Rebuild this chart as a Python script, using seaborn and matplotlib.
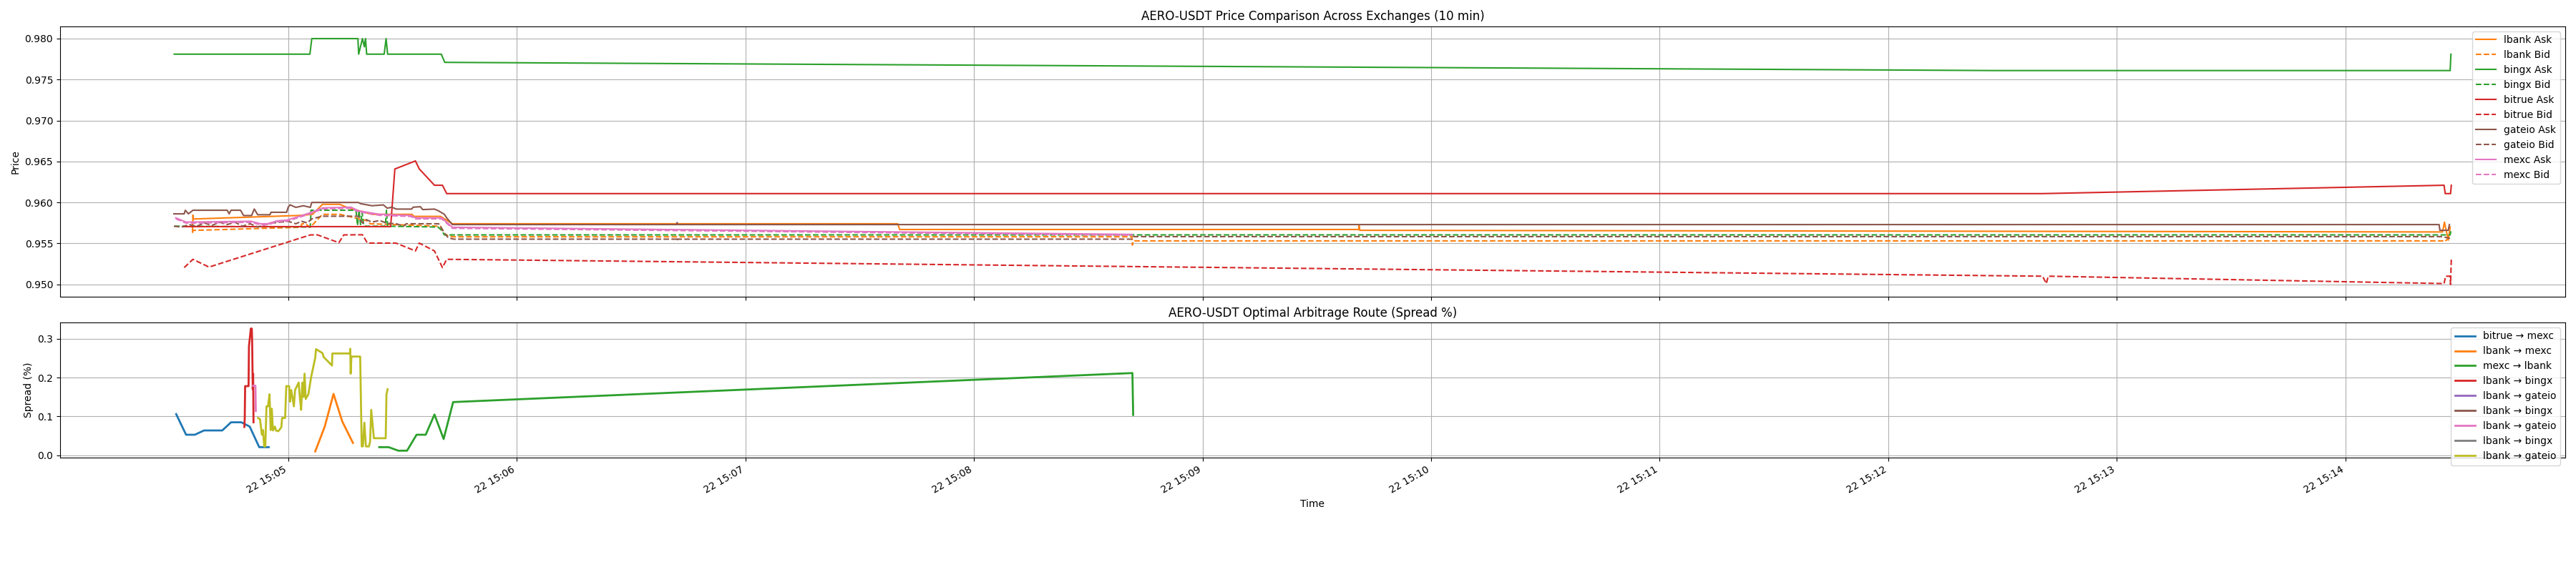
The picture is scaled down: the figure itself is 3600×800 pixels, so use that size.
import numpy as np
import pandas as pd
import matplotlib
matplotlib.use("Agg")
import matplotlib.pyplot as plt
import seaborn as sns

plt.rcParams['font.family'] = ['DejaVu Sans']

BASE = pd.Timestamp("2025-05-22 15:05:00")

# ---------------- price data (seconds from 15:05:00, price) ----------------
lbank_ask_t = [-25.1, -25.0, -24.9, 2.7, 6.4, 9.0, 13.6, 14.9, 16.0, 18.5, 22.0, 32.5, 33.0, 40.0, 41.0, 43.1, 160.0, 160.5, 281.0, 281.1, 281.3, 565.5, 566.0, 567.0, 567.5]
lbank_ask_p = [0.9564, 0.95845, 0.95798, 0.95841, 0.95855, 0.95977, 0.95977, 0.9595, 0.9593, 0.9590, 0.95855, 0.95855, 0.9583, 0.9583, 0.9580, 0.9574, 0.9574, 0.9567, 0.9567, 0.9572, 0.9566, 0.9564, 0.9576, 0.9554, 0.9570]

lbank_bid_t = [-25.1, -25.0, 3.3, 3.6, 4.5, 5.8, 9.0, 13.6, 14.9, 20.5, 21.5, 39.9, 41.0, 43.1, 221.5, 221.6, 221.8, 565.5, 566.0, 567.5]
lbank_bid_p = [0.9563, 0.95659, 0.95697, 0.9574, 0.9574, 0.95697, 0.95855, 0.95855, 0.95841, 0.9578, 0.95740, 0.95710, 0.9561, 0.95581, 0.95581, 0.9548, 0.95531, 0.95531, 0.9552, 0.9558]

bingx_ask_t = [-29.9, 5.7, 6.2, 18.3, 18.5, 19.5, 20.0, 20.3, 20.6, 25.2, 25.7, 26.1, 40.2, 41.1, 448.0, 567.5, 567.7]
bingx_ask_p = [0.9781, 0.9781, 0.9800, 0.9800, 0.9781, 0.9800, 0.9790, 0.9800, 0.9781, 0.9781, 0.9800, 0.9781, 0.9781, 0.9771, 0.9761, 0.9761, 0.9781]

bingx_bid_t = [-29.9, 5.8, 6.0, 17.8, 18.2, 18.6, 19.0, 19.4, 19.8, 20.3, 25.5, 25.8, 26.1, 39.3, 40.3, 41.0, 567.5, 567.7]
bingx_bid_p = [0.9571, 0.9570, 0.95905, 0.95905, 0.9572, 0.9590, 0.9573, 0.9588, 0.9572, 0.9571, 0.9571, 0.95905, 0.9571, 0.9570, 0.9566, 0.95604, 0.95604, 0.9566]

bitrue_ask_t = [-27.4, 26.9, 28.0, 33.4, 34.4, 38.4, 40.5, 41.6, 460.5, 565.9, 566.2, 567.6, 567.8]
bitrue_ask_p = [0.95705, 0.95705, 0.96408, 0.96507, 0.9641, 0.9621, 0.9621, 0.96108, 0.96108, 0.9621, 0.96108, 0.96108, 0.9621]

bitrue_bid_t = [-27.3, -25.0, -20.8, 5.8, 7.7, 13.3, 14.6, 19.5, 20.8, 28.3, 33.4, 34.4, 38.4, 40.5, 41.6, 460.5, 461.5, 462.0, 565.9, 566.3, 567.5, 567.6, 567.8]
bitrue_bid_p = [0.95205, 0.95306, 0.95211, 0.95604, 0.95604, 0.95509, 0.95604, 0.95606, 0.95504, 0.95504, 0.95408, 0.95504, 0.95408, 0.95204, 0.95306, 0.9510, 0.9501, 0.9510, 0.9501, 0.9510, 0.9510, 0.9500, 0.9531]

gateio_ask_t = [-30.0, -27.3, -27.0, -26.2, -25.0, -16.0, -15.5, -15.0, -12.5, -11.7, -9.6, -8.9, -8.0, -4.8, -4.5, -0.4, 0.0, 0.5, 2.0, 4.0, 5.8, 6.2, 18.4, 19.0, 22.0, 25.0, 26.0, 27.2, 28.4, 32.4, 32.8, 34.7, 35.3, 38.4, 39.4, 41.0, 41.6, 43.1, 102.0, 102.1, 102.2, 564.6, 564.8, 567.0, 567.3]
gateio_ask_p = [0.95861, 0.95861, 0.95905, 0.95861, 0.95905, 0.95905, 0.95861, 0.95905, 0.95905, 0.95840, 0.95840, 0.95920, 0.95850, 0.95850, 0.95880, 0.95880, 0.95942, 0.95971, 0.9594, 0.9596, 0.9594, 0.9600, 0.9600, 0.95985, 0.9596, 0.9597, 0.9593, 0.95942, 0.95919, 0.95919, 0.95942, 0.95948, 0.95913, 0.95919, 0.95899, 0.95855, 0.95812, 0.95730, 0.95730, 0.95755, 0.95730, 0.95730, 0.9566, 0.9566, 0.9573]

gateio_bid_t = [-30.0, -28.0, -26.0, -24.0, -22.0, -20.0, -18.0, -16.0, -14.0, -12.0, -10.0, -8.0, -6.0, -4.0, -2.0, 0.0, 2.0, 3.5, 5.0, 6.2, 9.0, 18.4, 19.5, 20.5, 22.0, 24.0, 26.0, 28.4, 30.3, 31.0, 39.5, 40.3, 41.0, 42.0, 43.4, 102.0, 102.1, 102.2, 221.5, 221.8, 565.5, 567.5]
gateio_bid_p = [0.95711, 0.9570, 0.9573, 0.9571, 0.9575, 0.9572, 0.9576, 0.9573, 0.9576, 0.9571, 0.9574, 0.9570, 0.9573, 0.9575, 0.9576, 0.9577, 0.9574, 0.9577, 0.9575, 0.9580, 0.95832, 0.95832, 0.9575, 0.9579, 0.9576, 0.9578, 0.95745, 0.9574, 0.95711, 0.95740, 0.95740, 0.95685, 0.95627, 0.9557, 0.95552, 0.95552, 0.9553, 0.95552, 0.95552, 0.95583, 0.95583, 0.9556]

mexc_ask_t = [-29.5, -26.8, -9.8, -7.3, -5.4, -2.9, -0.4, 2.7, 6.4, 9.0, 16.5, 18.4, 24.0, 32.2, 33.4, 40.3, 43.1, 221.5]
mexc_ask_p = [0.95812, 0.9576, 0.9577, 0.9574, 0.9574, 0.95776, 0.95784, 0.95827, 0.95884, 0.95934, 0.95942, 0.95899, 0.95855, 0.95841, 0.95812, 0.95812, 0.95697, 0.9561]

mexc_bid_t = [-29.5, -26.8, -9.8, -7.3, -5.4, -2.9, -0.4, 2.7, 6.4, 9.0, 16.5, 18.4, 24.0, 32.2, 33.4, 40.3, 43.1, 221.5]
mexc_bid_p = [0.95800, 0.95748, 0.95758, 0.95728, 0.95728, 0.95764, 0.95772, 0.95815, 0.95872, 0.95922, 0.95930, 0.95887, 0.95843, 0.95829, 0.95800, 0.95800, 0.95685, 0.9560]

# ---------------- spread data (seconds from 15:05:00, spread %) ----------------
route_labels = ["bitrue → mexc", "lbank → mexc", "mexc → lbank", "lbank → bingx", "lbank → gateio",
                "lbank → bingx", "lbank → gateio", "lbank → bingx", "lbank → gateio"]

r0_t = [-29.4, -26.8, -24.5, -22.1, -17.3, -15.0, -12.3, -10.1, -7.6, -5.1]
r0_s = [0.106, 0.053, 0.053, 0.064, 0.064, 0.085, 0.085, 0.074, 0.021, 0.021]
r1_t = [7.1, 9.6, 11.9, 14.2, 17.0]
r1_s = [0.010, 0.074, 0.158, 0.087, 0.032]
r2_t = [23.9, 26.4, 28.9, 31.2, 33.7, 36.1, 38.4, 40.8, 43.3, 221.6, 221.8]
r2_s = [0.021, 0.021, 0.012, 0.012, 0.053, 0.053, 0.105, 0.042, 0.137, 0.2116, 0.104]
r3_t = [-11.5, -11.4, -11.3, -10.4, -10.3, -9.8, -9.55, -9.45, -9.35, -9.3, -9.2, -9.1]
r3_s = [0.073, 0.096, 0.178, 0.178, 0.280, 0.326, 0.326, 0.290, 0.210, 0.170, 0.210, 0.085]
r4_t = [-9.0]
r4_s = [0.180]
r5_t = [-9.4]
r5_s = [0.200]
r6_t = [-9.2, -8.6, -8.5]
r6_s = [0.179, 0.179, 0.114]
r7_t = [-9.3]
r7_s = [0.150]
r8_t = [-7.9, -7.4, -6.9, -6.6, -6.3, -6.0, -5.7, -5.3, -4.9, -4.6, -4.3, -4.0, -3.5, -3.2, -2.6, -1.8, -1.6, -0.8, -0.5, 0.25, 0.45, 0.8, 1.5, 1.8, 2.75, 3.1, 3.4, 3.7, 4.0, 4.3, 4.6, 5.3, 6.0, 7.1, 7.3, 9.0, 9.3, 11.5, 11.6, 16.2, 16.3, 16.4, 16.6, 18.9, 19.3, 19.6, 20.0, 20.4, 21.2, 21.5, 21.8, 22.5, 25.6, 25.8, 26.1]
r8_s = [0.096, 0.093, 0.053, 0.065, 0.023, 0.023, 0.126, 0.126, 0.157, 0.065, 0.120, 0.064, 0.074, 0.064, 0.062, 0.072, 0.096, 0.096, 0.178, 0.178, 0.138, 0.168, 0.126, 0.168, 0.187, 0.145, 0.117, 0.187, 0.150, 0.210, 0.145, 0.157, 0.200, 0.251, 0.273, 0.263, 0.253, 0.231, 0.262, 0.262, 0.274, 0.210, 0.254, 0.254, 0.023, 0.023, 0.084, 0.023, 0.023, 0.035, 0.117, 0.044, 0.044, 0.157, 0.170]


def to_df(ts, vals):
    return pd.DataFrame({"time": BASE + pd.to_timedelta(np.array(ts, dtype=float), unit="s"),
                         "value": vals})


fig, (ax1, ax2) = plt.subplots(2, 1, figsize=(36, 8), dpi=100, sharex=True,
                               gridspec_kw={"height_ratios": [2, 1]})

price_series = [
    ("lbank Ask", lbank_ask_t, lbank_ask_p, "#ff7f0e", "-"),
    ("lbank Bid", lbank_bid_t, lbank_bid_p, "#ff7f0e", "--"),
    ("bingx Ask", bingx_ask_t, bingx_ask_p, "#2ca02c", "-"),
    ("bingx Bid", bingx_bid_t, bingx_bid_p, "#2ca02c", "--"),
    ("bitrue Ask", bitrue_ask_t, bitrue_ask_p, "#d62728", "-"),
    ("bitrue Bid", bitrue_bid_t, bitrue_bid_p, "#d62728", "--"),
    ("gateio Ask", gateio_ask_t, gateio_ask_p, "#8c564b", "-"),
    ("gateio Bid", gateio_bid_t, gateio_bid_p, "#8c564b", "--"),
    ("mexc Ask", mexc_ask_t, mexc_ask_p, "#e377c2", "-"),
    ("mexc Bid", mexc_bid_t, mexc_bid_p, "#e377c2", "--"),
]
for label, ts, ps, col, ls in price_series:
    df = to_df(ts, ps)
    sns.lineplot(data=df, x="time", y="value", ax=ax1, label=label, color=col,
                 linestyle=ls, linewidth=1.5, estimator=None, sort=False)

ax1.set_title("AERO-USDT Price Comparison Across Exchanges (10 min)", fontsize=12)
ax1.set_ylabel("Price")
ax1.set_xlabel("")
ax1.grid(True)
ax1.legend(loc="upper right")

route_colors = ["#1f77b4", "#ff7f0e", "#2ca02c", "#d62728", "#9467bd",
                "#8c564b", "#e377c2", "#7f7f7f", "#bcbd22"]
route_data = [(r0_t, r0_s), (r1_t, r1_s), (r2_t, r2_s), (r3_t, r3_s), (r4_t, r4_s),
              (r5_t, r5_s), (r6_t, r6_s), (r7_t, r7_s), (r8_t, r8_s)]
for label, (ts, ss), col in zip(route_labels, route_data, route_colors):
    df = to_df(ts, ss)
    sns.lineplot(data=df, x="time", y="value", ax=ax2, label=label, color=col,
                 linewidth=2, estimator=None, sort=False)

ax2.set_title("AERO-USDT Optimal Arbitrage Route (Spread %)", fontsize=12)
ax2.set_ylabel("Spread (%)")
ax2.set_xlabel("Time")
ax2.grid(True)
ax2.legend(loc="upper right")

fig.autofmt_xdate(bottom=0.2, rotation=30, ha="right")
fig.subplots_adjust(left=0.0233, right=0.9958, top=0.954, bottom=0.2, hspace=0.127)

fig.savefig("out.png", dpi=100)
